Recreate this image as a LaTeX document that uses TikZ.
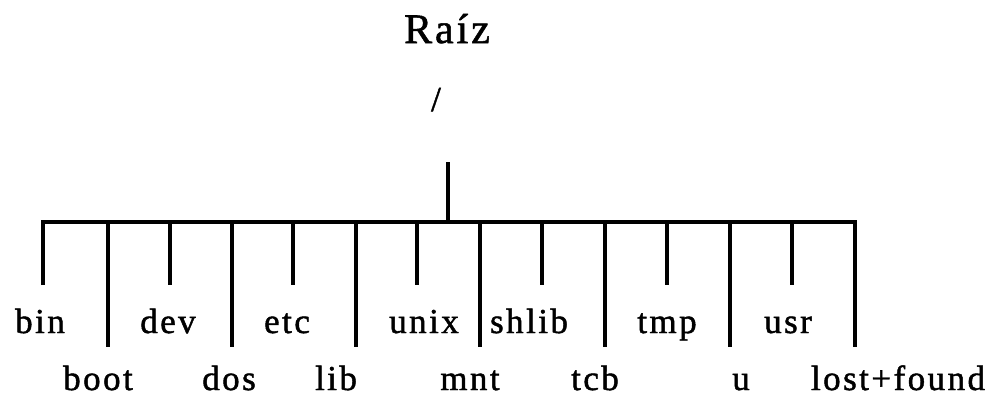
\documentclass[tikz,border=0pt]{standalone}
\usepackage{fontspec}
\setmainfont{Liberation Serif}[LetterSpace=7, FakeBold=1.3]
\begin{document}
\begin{tikzpicture}[x=1pt,y=-1pt,
  wire/.style={line width=3.2pt, line join=miter},
  lbl/.style={anchor=base, inner sep=0pt, font=\fontsize{35}{35}\selectfont},
  title/.style={anchor=base, inner sep=0pt, font=\fontsize{42}{42}\selectfont}]
\useasboundingbox (0,0) rectangle (992,397);
% titles
\node[title] (raiz) at (447,43) {Raíz};
\node[lbl] (slash) at (436,111) {/};
% stem
\coordinate (stemtop) at (448,162);
\coordinate (stembot) at (448,222);
\draw[wire] (stemtop) -- (stembot);
% branch coordinates: name / x / end y
\foreach \n/\x/\y in {bin/43/285, boot/108/347, dev/170/285, dos/232/347,
  etc/293/285, lib/356/347, unix/417/285, mnt/480/347, shlib/542/285,
  tcb/605/347, tmp/667/285, u/730/347, usr/792/285, lost/855/347}{
  \coordinate (b-\n) at (\x,222);
  \coordinate (e-\n) at (\x,\y);
}
\draw[wire] (e-bin) -- (b-bin) -- (b-lost) -- (e-lost);
\foreach \n in {boot,dev,dos,etc,lib,unix,mnt,shlib,tcb,tmp,u,usr}{
  \draw[wire] (b-\n) -- (e-\n);
}
% labels row 1
\node[lbl] (l-bin) at (40,333) {bin};
\node[lbl] (l-dev) at (168,333) {dev};
\node[lbl] (l-etc) at (287,333) {etc};
\node[lbl] (l-unix) at (424,333) {unix};
\node[lbl] (l-shlib) at (529,333) {shlib};
\node[lbl] (l-tmp) at (667,333) {tmp};
\node[lbl] (l-usr) at (788,333) {usr};
% labels row 2
\node[lbl] (l-boot) at (98,390) {boot};
\node[lbl] (l-dos) at (229,390) {dos};
\node[lbl] (l-lib) at (336,390) {lib};
\node[lbl] (l-mnt) at (470,390) {mnt};
\node[lbl] (l-tcb) at (595,390) {tcb};
\node[lbl] (l-u) at (741,390) {u};
\node[lbl] (l-lost) at (898,390) {lost+found};
\end{tikzpicture}
\end{document}
